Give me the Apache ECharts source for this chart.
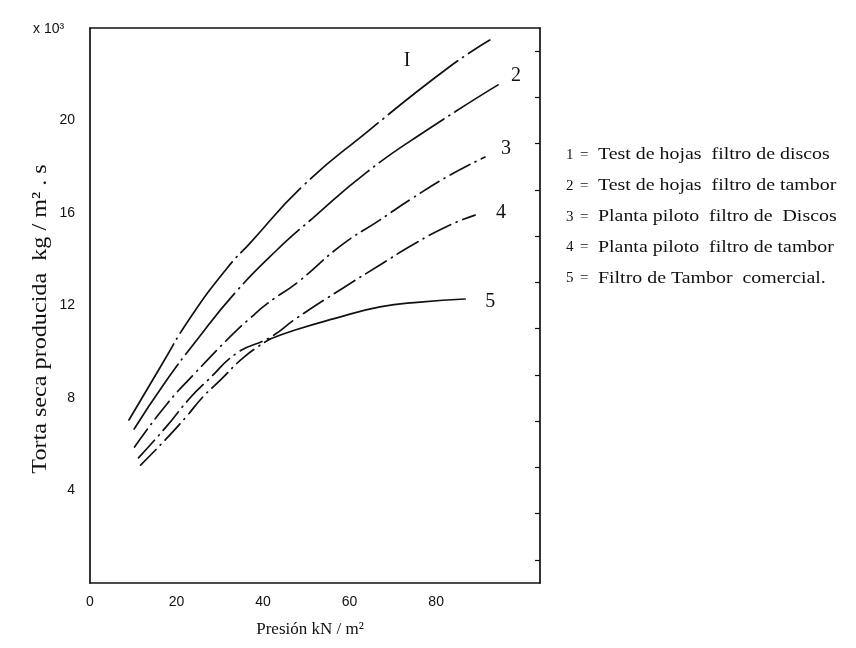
<!DOCTYPE html>
<html><head><meta charset="utf-8">
<script src="https://cdn.jsdelivr.net/npm/echarts@6/dist/echarts.min.js"></script>
<style>html,body{margin:0;padding:0;background:#fff}#c{width:856px;height:648px}</style>
</head><body><div id="c"></div>
<script>
// ---- data ----
const curveNames = ['I', '2', '3', '4', '5'];
const legendNumbers = ['1', '2', '3', '4', '5'];
const legendTexts = [
  'Test de hojas  filtro de discos',
  'Test de hojas  filtro de tambor',
  'Planta piloto  filtro de  Discos',
  'Planta piloto  filtro de tambor',
  'Filtro de Tambor  comercial.'
];
const xTickLabels = [0, 20, 40, 60, 80];
const yTickLabels = [4, 8, 12, 16, 20];
const rightTickValues = [1, 3, 5, 7, 9, 11, 13, 15, 17, 19, 21, 23];

const c1x = [9.0, 16.6, 23.1, 31.7, 37.0, 49.2, 64.0, 82.7, 92.4];
const c1y = [7.05, 9.45, 11.45, 13.62, 14.70, 17.17, 19.50, 22.27, 23.48];
const c2x = [10.2, 17.1, 24.7, 33.5, 43.2, 51.5, 64.0, 77.9, 94.3];
const c2y = [6.66, 8.61, 10.51, 12.54, 14.40, 15.78, 17.77, 19.59, 21.54];
const c3x = [10.3, 17.6, 24.3, 32.4, 37.0, 41.1, 48.1, 58.2, 66.6, 74.6, 83.2, 91.3];
const c3y = [5.88, 7.70, 9.08, 10.65, 11.45, 12.10, 13.02, 14.62, 15.65, 16.65, 17.64, 18.42];
const c4x = [11.2, 17.6, 23.1, 27.3, 34.0, 41.6, 47.8, 58.5, 67.0, 74.9, 83.2, 89.0];
const c4y = [5.41, 6.75, 8.00, 8.78, 9.95, 10.62, 11.46, 12.76, 13.75, 14.66, 15.48, 15.91];
const c5x = [11.7, 17.6, 22.2, 26.1, 30.0, 35.8, 41.6, 47.4, 56.2, 67.0, 76.3, 86.7];
const c5y = [5.10, 6.23, 7.18, 8.05, 8.75, 9.80, 10.55, 10.94, 11.42, 11.94, 12.15, 12.28];
const c5SolidFrom = 6; // curve 5 becomes solid from this point on

// ---- styles ----
const INK = '#111';
const serif = 'Liberation Serif';
const dashPatterns = [[88, 6, 1, 6], [78, 6, 1, 6], [22, 6, 1, 6], [24, 6, 1, 6], [22, 6, 1, 6]];
const labelOffsets = [[-94, 21], [5, -9], [8, -8], [13, -2], [12, 3]];

const zip = (xs, ys) => xs.map((v, i) => [v, ys[i]]);
const curves = [zip(c1x, c1y), zip(c2x, c2y), zip(c3x, c3y), zip(c4x, c4y), zip(c5x, c5y)];

function lineSeries(data, i, dash, withLabel) {
  return {
    type: 'line', data: data, smooth: 0.5, showSymbol: false, silent: true,
    xAxisIndex: 0, yAxisIndex: 0,
    lineStyle: { color: INK, width: 1.7, type: dash, cap: 'round' },
    endLabel: {
      show: withLabel, formatter: curveNames[i], offset: labelOffsets[i],
      fontFamily: serif, fontSize: 20, color: INK
    }
  };
}

const series = [];
for (let i = 0; i < 4; i++) series.push(lineSeries(curves[i], i, dashPatterns[i], true));
series.push(lineSeries(curves[4].slice(0, c5SolidFrom + 1), 4, dashPatterns[4], false));
series.push(lineSeries(curves[4].slice(c5SolidFrom), 4, 'solid', true));

const graphics = [{
  type: 'text', left: 33, top: 22,
  style: { text: 'x 10³', font: '14px Liberation Sans', fill: INK }
}, {
  type: 'text', x: 40, y: 319, rotation: Math.PI / 2, scaleX: 1.15,
  style: { text: 'Torta seca producida  kg / m² . s', font: '21px ' + serif, fill: INK, align: 'center', verticalAlign: 'middle' }
}];
legendNumbers.forEach((n, i) => {
  const y = 155 + i * 30.8;
  graphics.push({ type: 'text', x: 566, y: y, style: { text: n, font: '15px ' + serif, fill: INK, verticalAlign: 'middle' } });
  graphics.push({ type: 'text', x: 580, y: y, style: { text: '=', font: '15px ' + serif, fill: INK, verticalAlign: 'middle' } });
  graphics.push({ type: 'text', x: 598, y: y, scaleX: 1.17, style: { text: legendTexts[i], font: '17px ' + serif, fill: INK, verticalAlign: 'middle' } });
});

const chart = echarts.init(document.getElementById('c'), null, { renderer: 'canvas' });
chart.setOption({
  animation: false,
  backgroundColor: '#fff',
  grid: { left: 90, right: 316, top: 28, bottom: 65, containLabel: false },
  xAxis: [{
    type: 'value', min: 0, max: 104, interval: 20,
    name: 'Presión kN / m²', nameLocation: 'middle', nameGap: 38,
    nameTextStyle: { fontFamily: serif, fontSize: 17, color: INK, padding: [0, 10, 0, 0] },
    axisLine: { show: true, onZero: false, lineStyle: { color: INK, width: 1.7 } },
    axisTick: { show: false },
    axisLabel: { customValues: xTickLabels, margin: 12, fontFamily: 'Liberation Sans', fontSize: 14, color: INK },
    splitLine: { show: false }
  }, {
    type: 'value', position: 'top', min: 0, max: 104,
    axisLine: { show: true, onZero: false, lineStyle: { color: INK, width: 1.7 } },
    axisTick: { show: false }, axisLabel: { show: false }, splitLine: { show: false }
  }],
  yAxis: [{
    type: 'value', min: 0, max: 24, interval: 4,
    axisLine: { show: true, onZero: false, lineStyle: { color: INK, width: 1.7 } },
    axisTick: { show: false },
    axisLabel: { customValues: yTickLabels, margin: 15, fontFamily: 'Liberation Sans', fontSize: 14, color: INK },
    splitLine: { show: false }
  }, {
    type: 'value', position: 'right', min: 0, max: 24,
    axisLine: { show: true, onZero: false, lineStyle: { color: INK, width: 1.7 } },
    axisTick: { show: true, inside: true, length: 5, customValues: rightTickValues, lineStyle: { color: INK, width: 1.2 } },
    axisLabel: { show: false }, splitLine: { show: false }
  }],
  graphic: graphics,
  series: series
});
</script>
</body></html>
